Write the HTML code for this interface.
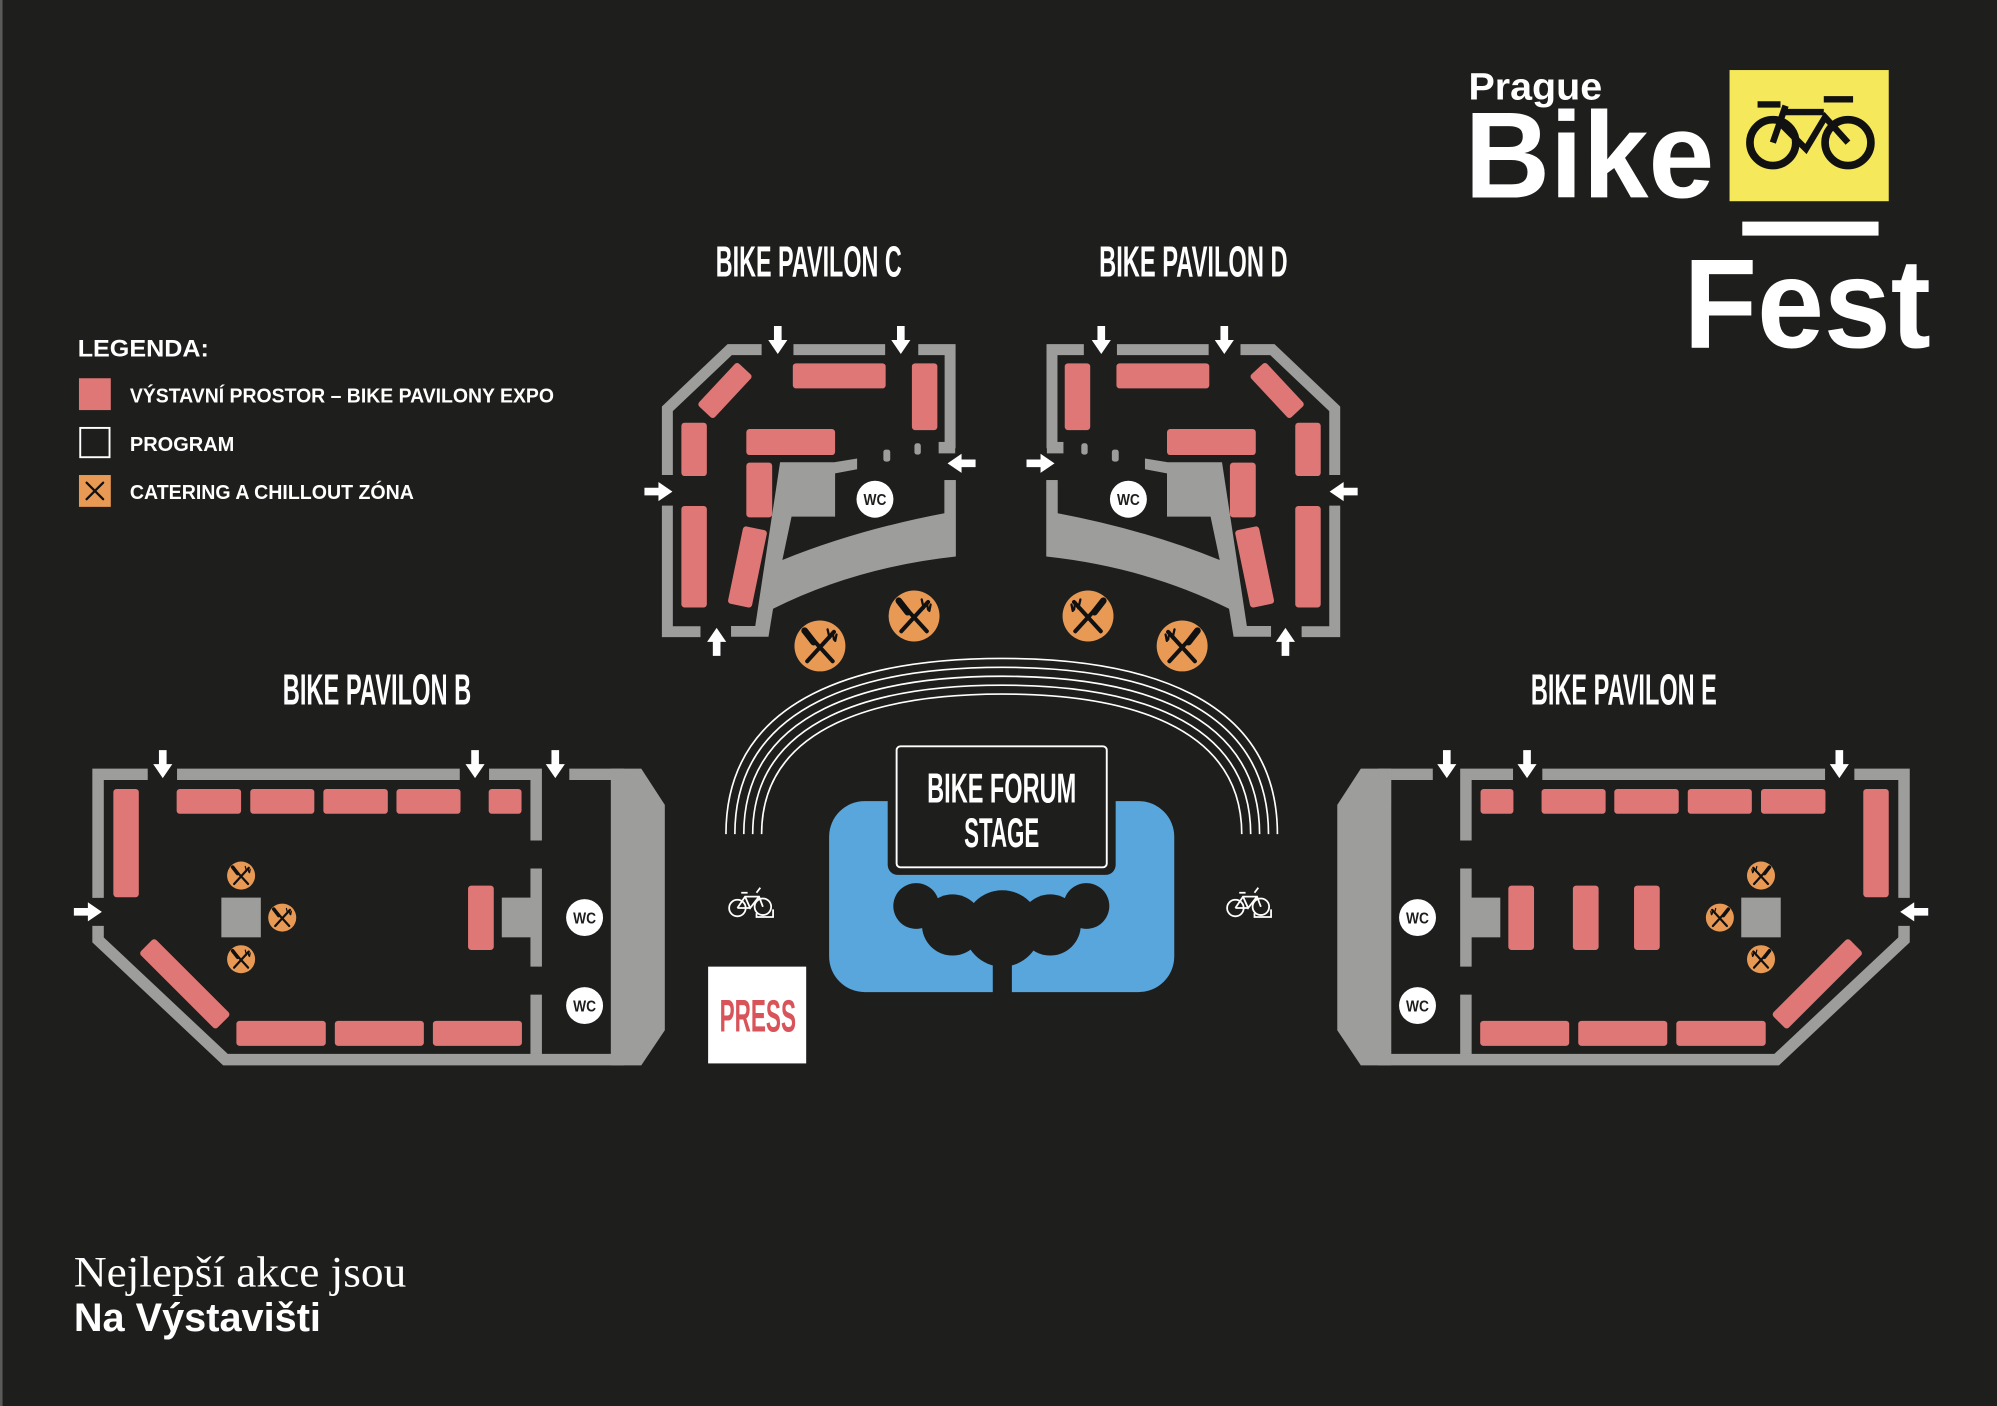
<!DOCTYPE html>
<html><head><meta charset="utf-8"><style>
html,body{margin:0;padding:0;background:#1e1e1d;}
svg{display:block;}
.h{font-family:"Liberation Sans Narrow","Liberation Sans",sans-serif;font-weight:bold;fill:#fff;}
.s{font-family:"Liberation Sans",sans-serif;font-weight:bold;fill:#fff;}
</style></head><body>
<svg width="1997" height="1406" viewBox="0 0 1568 1104" preserveAspectRatio="none" xmlns="http://www.w3.org/2000/svg">
<defs>
<path id="ad" d="M-3,0 H3 V11 H7.5 L0,22 L-7.5,11 H-3 Z" fill="#fff"/>
<g id="fk">
<circle r="10" fill="#e89a55"/>
<g stroke="#111" stroke-width="1.6" stroke-linecap="round" fill="none">
<line x1="-5.5" y1="-5.5" x2="5" y2="6"/>
<line x1="5.5" y1="-5.5" x2="-5" y2="6"/>
<path d="M-6,-6 L-2.5,-1.5" stroke-width="2.6"/>
<path d="M3,-6.5 L3.8,-3 M5,-5.5 L5.5,-2.5 M6.5,-4.5 L6,-2" stroke-width="0.9"/>
</g>
</g>
<g id="wc"><circle r="14.5" fill="#fff"/><text y="4.5" text-anchor="middle" class="s" style="fill:#1e1e1d;font-size:12.5px" textLength="18" lengthAdjust="spacingAndGlyphs">WC</text></g>
<g id="bk" fill="none" stroke="#fff" stroke-width="1.4">
<circle cx="-11" cy="4" r="6.5"/><circle cx="9" cy="3" r="6.5"/>
<path d="M-11,4 L-5,-5 L6,-5 L9,3 M-5,-5 L-1,4 L6,-5 M-8,-8 L-3,-8 M4,-8 L7,-12 M-1,4 L-11,4"/>
<path d="M4,8 V11 H17 V5" />
</g>
<g id="pB">
<g fill="none" stroke="#9d9d9c" stroke-width="9">
<polyline points="77,705 77,608 116,608"/>
<line x1="139" y1="608" x2="361" y2="608"/>
<polyline points="384,608 421,608 421,660"/>
<line x1="421" y1="682" x2="421" y2="759"/>
<line x1="421" y1="781" x2="421" y2="832"/>
<polyline points="77,727 77,738 177,832 490,832"/>
<line x1="447" y1="608" x2="490" y2="608"/>
</g>
<path d="M479.6,603.5 H503.5 L522,632 V809 L503.5,836.5 H479.6 Z" fill="#9d9d9c"/>
<rect x="394" y="704.8" width="25" height="31.2" fill="#9d9d9c"/>
<rect x="173.8" y="704.8" width="31" height="31.2" fill="#9d9d9c"/>
<g fill="#de7775">
<rect x="89" y="619.5" width="20" height="85" rx="2.5"/>
<rect x="138.7" y="619.5" width="50.6" height="19.5" rx="2.5"/>
<rect x="196.5" y="619.5" width="50.3" height="19.5" rx="2.5"/>
<rect x="253.9" y="619.5" width="50.6" height="19.5" rx="2.5"/>
<rect x="311.3" y="619.5" width="50.3" height="19.5" rx="2.5"/>
<rect x="383.7" y="619.5" width="25.8" height="19.5" rx="2.5"/>
<rect x="185.6" y="801.6" width="70.2" height="19.6" rx="2.5"/>
<rect x="262.9" y="801.6" width="69.9" height="19.6" rx="2.5"/>
<rect x="339.9" y="801.6" width="69.9" height="19.6" rx="2.5"/>
<rect x="367.5" y="695.4" width="20.2" height="50.5" rx="2.5"/>
<rect x="-42.5" y="-8.5" width="85" height="17" rx="2.5" transform="translate(145.1 772.5) rotate(45)"/>
</g>
<use href="#fk" transform="translate(189.3 687.5) scale(1.1)"/>
<use href="#fk" transform="translate(221.6 720.5) scale(1.1)"/>
<use href="#fk" transform="translate(189.3 753.2) scale(1.1)"/>
<use href="#ad" transform="translate(127.8 589)"/>
<use href="#ad" transform="translate(373 589)"/>
<use href="#ad" transform="translate(436 589)"/>
<use href="#ad" transform="translate(58 716) rotate(-90)"/>
</g>
<g id="pC">
<g fill="none" stroke="#9d9d9c" stroke-width="8.6">
<polyline points="524,373 524,321 573,274.5 598,274.5"/>
<line x1="623" y1="274.5" x2="695" y2="274.5"/>
<polyline points="721,274.5 746,274.5 746,352"/>
<line x1="746" y1="377" x2="746" y2="436"/>
<polyline points="524,397 524,496 550,496"/>
</g>
<rect x="737" y="347" width="13" height="9" fill="#9d9d9c"/>
<path d="M574,491.5 H593 L612.5,363 H655 L673,360 V368.5 L655.7,371.7 V405.7 H621.5 L614.3,439.7 Q673,416 741.5,403 V377 H750.5 V437 Q672,445.5 607,478 L603.4,500 H574 Z" fill="#9d9d9c"/>
<rect x="693.6" y="353" width="5.4" height="9.5" rx="2" fill="#9d9d9c"/>
<rect x="718" y="348" width="5" height="9" rx="2" fill="#9d9d9c"/>
<g fill="#de7775">
<rect x="-23" y="-8.5" width="46" height="17" rx="2.5" transform="translate(569.2 306.6) rotate(-47)"/>
<rect x="622.5" y="285.3" width="72.9" height="19.7" rx="2.5"/>
<rect x="716" y="285.3" width="20" height="52.4" rx="2.5"/>
<rect x="535" y="331.9" width="20" height="41.9" rx="2.5"/>
<rect x="535" y="397.3" width="20" height="79.7" rx="2.5"/>
<rect x="586" y="336.9" width="69.7" height="20.4" rx="2.5"/>
<rect x="586" y="363.3" width="20.3" height="42.9" rx="2.5"/>
<rect x="-31" y="-9.6" width="62" height="19.2" rx="2.5" transform="translate(586.9 445.2) rotate(101.7)"/>
</g>
<use href="#fk" transform="translate(717.7 483.7) scale(2)"/>
<use href="#fk" transform="translate(643.8 507.2) scale(2)"/>
<use href="#ad" transform="translate(610.7 256)"/>
<use href="#ad" transform="translate(707.3 256)"/>
<use href="#ad" transform="translate(766 363.8) rotate(90)"/>
<use href="#ad" transform="translate(506 386) rotate(-90)"/>
<use href="#ad" transform="translate(562.7 515) rotate(180)"/>
</g>
</defs>
<rect x="0" y="0" width="1568" height="1104" fill="#1e1e1d"/>
<rect x="0" y="0" width="2" height="1104" fill="#5a5a59"/>

<text x="61" y="280" class="s" style="font-size:19px" textLength="103" lengthAdjust="spacingAndGlyphs">LEGENDA:</text>
<rect x="62" y="297" width="25" height="25" fill="#de7775"/>
<text x="102" y="316" class="s" style="font-size:16px" textLength="333" lengthAdjust="spacingAndGlyphs">VÝSTAVNÍ PROSTOR – BIKE PAVILONY EXPO</text>
<rect x="63" y="336" width="23" height="23" fill="none" stroke="#fff" stroke-width="1.5"/>
<text x="102" y="354" class="s" style="font-size:16px" textLength="82" lengthAdjust="spacingAndGlyphs">PROGRAM</text>
<rect x="62" y="373" width="25" height="25" fill="#e89a55"/>
<g stroke="#111" stroke-width="1.8" stroke-linecap="round"><line x1="68" y1="379" x2="81" y2="392"/><line x1="81" y1="379" x2="68" y2="392"/></g>
<text x="102" y="392" class="s" style="font-size:16px" textLength="223" lengthAdjust="spacingAndGlyphs">CATERING A CHILLOUT ZÓNA</text>

<text x="1153" y="78" class="s" style="font-size:30px" textLength="105" lengthAdjust="spacingAndGlyphs">Prague</text>
<text x="1150" y="155" class="s" style="font-size:96px" textLength="196" lengthAdjust="spacingAndGlyphs">Bike</text>
<rect x="1358" y="55" width="125" height="103" fill="#f5e85a"/>
<g fill="none" stroke="#111" stroke-width="6">
<circle cx="1392" cy="112" r="18"/><circle cx="1451" cy="112" r="18"/>
<path d="M1392,112 L1402,83 M1397,96 L1418,117 L1433,92 L1451,112 M1402,88 L1432,88 M1380,82 H1398 M1432,78 H1455" stroke-width="5"/>
</g>
<rect x="1368" y="174" width="107" height="11" fill="#fff"/>
<text x="1322" y="273" class="s" style="font-size:100px" textLength="194" lengthAdjust="spacingAndGlyphs">Fest</text>

<text x="562" y="217" class="h" style="font-size:34px" textLength="146" lengthAdjust="spacingAndGlyphs">BIKE PAVILON C</text>
<text x="863" y="217" class="h" style="font-size:34px" textLength="148" lengthAdjust="spacingAndGlyphs">BIKE PAVILON D</text>
<text x="222" y="553" class="h" style="font-size:34px" textLength="148" lengthAdjust="spacingAndGlyphs">BIKE PAVILON B</text>
<text x="1202" y="553" class="h" style="font-size:34px" textLength="146" lengthAdjust="spacingAndGlyphs">BIKE PAVILON E</text>

<use href="#pB"/>
<use href="#wc" x="459" y="720.5"/><use href="#wc" x="459" y="789.6"/>
<use href="#pB" transform="translate(1572 0) scale(-1 1)"/>
<g fill="#de7775">
<rect x="1235" y="695.4" width="20.2" height="50.5" rx="2.5"/>
<rect x="1283" y="695.4" width="20.2" height="50.5" rx="2.5"/>
</g>
<use href="#wc" x="1113" y="720.5"/><use href="#wc" x="1113" y="789.6"/>

<use href="#pC"/>
<use href="#wc" x="687" y="392"/>
<use href="#pC" transform="translate(1572 0) scale(-1 1)"/>
<use href="#wc" x="886" y="392"/>

<g fill="none" stroke="#fff" stroke-width="1.3">
<path d="M570,655 C570,545 680,517 787,517 C894,517 1003,545 1003,655"/>
<path d="M577,655 C577,551 683,524 787,524 C891,524 996,551 996,655"/>
<path d="M584,655 C584,557 686,531 787,531 C888,531 989,557 989,655"/>
<path d="M591,655 C591,563 689,538 787,538 C885,538 982,563 982,655"/>
<path d="M598,655 C598,569 692,545 787,545 C882,545 975,569 975,655"/>
</g>
<rect x="651" y="629" width="271" height="150" rx="28" fill="#58a6dc"/>
<rect x="697" y="590" width="179" height="97" rx="8" fill="#1e1e1d"/>
<g fill="#1e1e1d">
<circle cx="719.4" cy="711.4" r="18"/>
<circle cx="747.9" cy="726.3" r="24"/>
<circle cx="787" cy="729" r="30"/>
<circle cx="824.6" cy="726.3" r="24"/>
<circle cx="853" cy="711.4" r="18"/>
<rect x="779.5" y="740" width="15" height="40"/>
</g>
<rect x="704" y="586" width="165" height="95" rx="3" fill="none" stroke="#fff" stroke-width="1.5"/>
<text x="728" y="630" class="h" style="font-size:33px" textLength="117" lengthAdjust="spacingAndGlyphs">BIKE FORUM</text>
<text x="757" y="665" class="h" style="font-size:33px" textLength="59" lengthAdjust="spacingAndGlyphs">STAGE</text>

<use href="#bk" transform="translate(590 709)"/>
<use href="#bk" transform="translate(981 709)"/>

<rect x="556" y="759" width="77" height="76" fill="#fff"/>
<text x="565" y="810" class="h" style="font-size:36px;fill:#d9545a" textLength="60" lengthAdjust="spacingAndGlyphs">PRESS</text>

<text x="58" y="1010" style="font-family:'Liberation Serif',serif;font-size:34px;fill:#fff" textLength="261" lengthAdjust="spacingAndGlyphs">Nejlepší akce jsou</text>
<text x="58" y="1045" class="s" style="font-size:31px" textLength="194" lengthAdjust="spacingAndGlyphs">Na Výstavišti</text>
</svg>
</body></html>
